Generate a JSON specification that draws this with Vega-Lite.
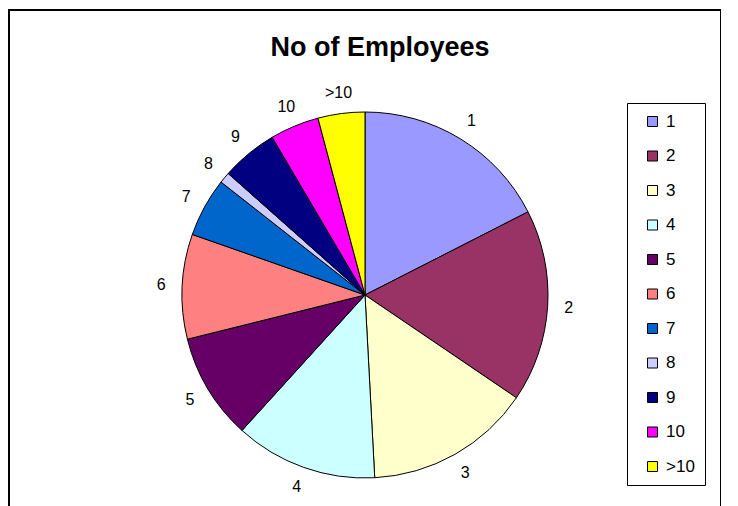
{
  "$schema": "https://vega.github.io/schema/vega-lite/v6.json",
  "autosize": "none",
  "width": 712,
  "height": 570,
  "padding": {"left": 9, "top": 10, "right": 0, "bottom": 0},
  "background": "white",
  "view": {"stroke": "black", "strokeWidth": 2, "fill": "white"},
  "config": {
    "view": {"stroke": "black", "strokeWidth": 2},
    "font": "Liberation Sans"
  },
  "title": {
    "text": "No of Employees",
    "fontSize": 27,
    "fontWeight": "bold",
    "font": "Liberation Sans",
    "color": "black",
    "anchor": "middle",
    "frame": "group",
    "offset": -73,
    "baseline": "alphabetic",
    "dx": 15
  },
  "data": {
    "values": [
      {"idx": 1, "cat": "1", "value": 63.0},
      {"idx": 2, "cat": "2", "value": 61.2},
      {"idx": 3, "cat": "3", "value": 52.8},
      {"idx": 4, "cat": "4", "value": 45.3},
      {"idx": 5, "cat": "5", "value": 33.8},
      {"idx": 6, "cat": "6", "value": 33.3},
      {"idx": 7, "cat": "7", "value": 18.8},
      {"idx": 8, "cat": "8", "value": 3.5},
      {"idx": 9, "cat": "9", "value": 17.9},
      {"idx": 10, "cat": "10", "value": 15.6},
      {"idx": 11, "cat": ">10", "value": 14.9}
    ]
  },
  "encoding": {
    "theta": {"field": "value", "type": "quantitative", "stack": true},
    "order": {"field": "idx", "type": "quantitative"}
  },
  "layer": [
    {
      "mark": {"type": "arc", "outerRadius": 183, "stroke": "black", "strokeWidth": 1},
      "encoding": {
        "color": {
          "field": "cat",
          "type": "nominal",
          "scale": {
            "domain": ["1", "2", "3", "4", "5", "6", "7", "8", "9", "10", ">10"],
            "range": ["#9999FF", "#993366", "#FFFFCC", "#CCFFFF", "#660066", "#FF8080", "#0066CC", "#CCCCFF", "#000080", "#FF00FF", "#FFFF00"]
          },
          "legend": {
            "title": null,
            "orient": "none",
            "legendX": 618,
            "legendY": 93,
            "strokeColor": "black",
            "fillColor": "white",
            "padding": 10,
            "symbolOffset": 7,
            "symbolType": "square",
            "symbolSize": 100,
            "symbolStrokeColor": "black",
            "symbolStrokeWidth": 1,
            "symbolOpacity": 1,
            "labelFont": "Liberation Sans",
            "labelFontSize": 17,
            "labelColor": "black",
            "labelOffset": 5,
            "rowPadding": 16.5
          }
        }
      }
    },
    {
      "mark": {"type": "text", "radius": 204, "fontSize": 16, "font": "Liberation Sans", "fill": "black"},
      "encoding": {
        "text": {"field": "cat", "type": "nominal"}
      }
    }
  ]
}
